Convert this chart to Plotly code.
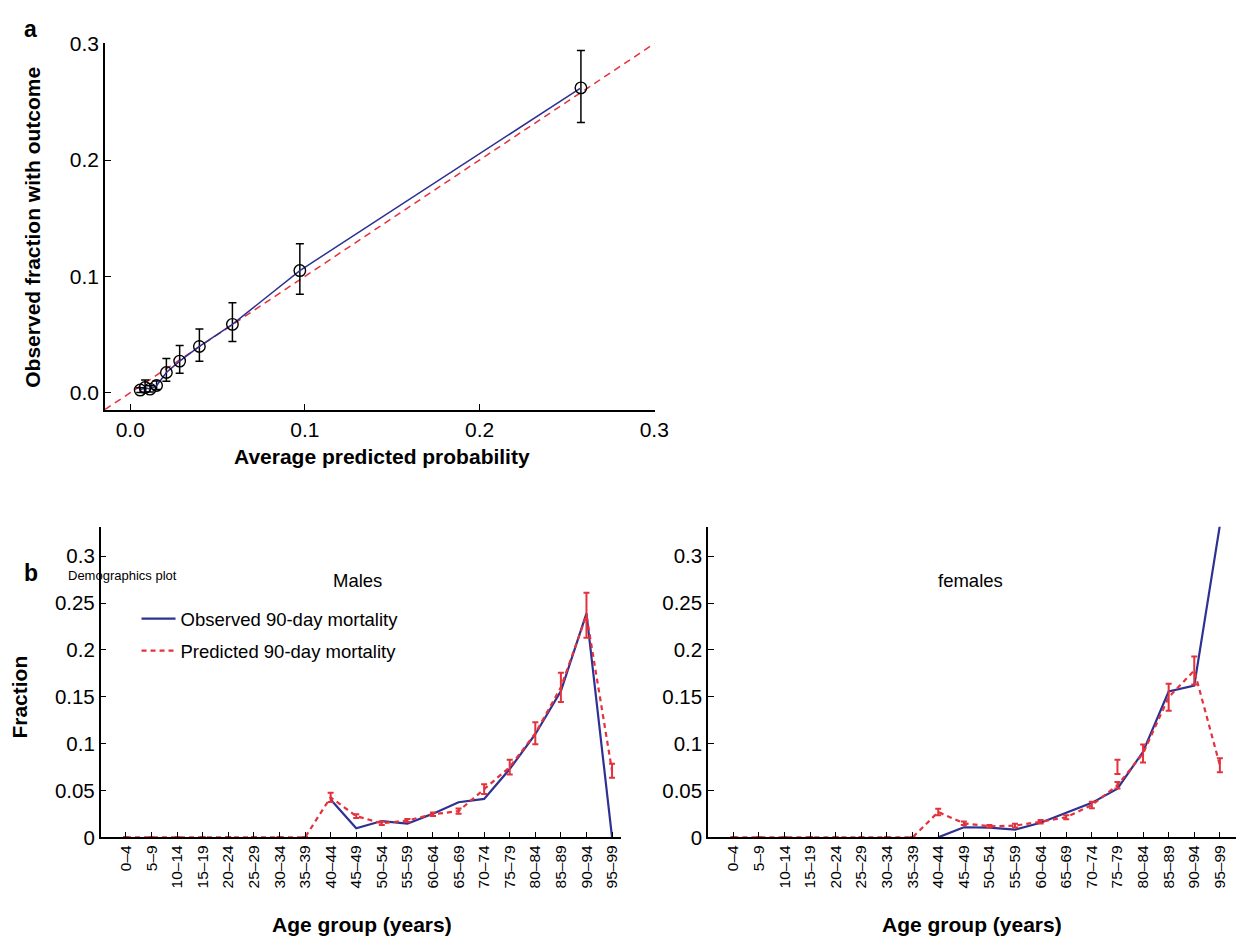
import plotly.graph_objects as go

# ---------------- Panel a: calibration ----------------
avg_pred = [0.0057, 0.0085, 0.0113, 0.0151, 0.0207, 0.0283, 0.0396, 0.0585, 0.0971, 0.2580]
obs_frac = [0.0023, 0.0045, 0.0031, 0.0062, 0.0174, 0.0272, 0.0398, 0.0588, 0.1050, 0.2620]
obs_err_plus = [0.0020, 0.0065, 0.0030, 0.0040, 0.0120, 0.0134, 0.0150, 0.0185, 0.0230, 0.0320]
obs_err_minus = [0.0020, 0.0040, 0.0025, 0.0035, 0.0076, 0.0105, 0.0128, 0.0148, 0.0204, 0.0297]
axis_a_range = [-0.0145, 0.3002]

# ---------------- Panel b: demographics ----------------
age_groups = ["0–4", "5–9", "10–14", "15–19", "20–24", "25–29", "30–34", "35–39", "40–44",
              "45–49", "50–54", "55–59", "60–64", "65–69", "70–74", "75–79", "80–84",
              "85–89", "90–94", "95–99"]

males_obs = [None] * 8 + [0.0403, 0.0097, 0.0174, 0.0146, 0.0253, 0.0375, 0.0410, 0.0729,
                          0.1100, 0.1560, 0.2390, 0.0]
males_pred = [0.0] * 8 + [0.0427, 0.0227, 0.0150, 0.0180, 0.0246, 0.0280, 0.0514, 0.0750,
                          0.1110, 0.1600, 0.2370, 0.0710]
males_pred_err = [0.0005] * 8 + [0.0050, 0.0020, 0.0018, 0.0017, 0.0018, 0.0027, 0.0052, 0.0078,
                                 0.0117, 0.0155, 0.0240, 0.0075]

females_obs = [None] * 8 + [0.0, 0.0108, 0.0104, 0.0083, 0.0156, 0.0264, 0.0368, 0.0520,
                            0.0913, 0.1556, 0.1618, 0.3330]
females_pred = [0.0] * 8 + [0.0270, 0.0150, 0.0118, 0.0125, 0.0167, 0.0215, 0.0345, 0.0556,
                            0.0895, 0.1495, 0.1780, 0.0770]
females_pred_err = [0.0005] * 8 + [0.0035, 0.0018, 0.0014, 0.0021, 0.0018, 0.0021, 0.0035, 0.0035,
                                   0.0095, 0.0145, 0.0150, 0.0075]
# separate error bar drawn at 75–79 in the females panel
females_extra_group = ["75–79"]
females_extra_val = [0.0752]
females_extra_err = [0.0075]

y_ticks_b = [0, 0.05, 0.1, 0.15, 0.2, 0.25, 0.3]
y_ticklabels_b = ["0", "0.05", "0.1", "0.15", "0.2", "0.25", "0.3"]
y_ticks_a = [0.0, 0.1, 0.2, 0.3]
y_ticklabels_a = ["0.0", "0.1", "0.2", "0.3"]

BLUE = "#2E3192"
RED = "#E3323C"
FONT = "Liberation Sans, Arial, sans-serif"

fig = go.Figure()

# Panel a
fig.add_trace(go.Scatter(
    x=axis_a_range, y=axis_a_range, mode="lines",
    line=dict(color=RED, width=1.5, dash="7px,5px"),
    xaxis="x", yaxis="y", showlegend=False, hoverinfo="skip"))
fig.add_trace(go.Scatter(
    x=avg_pred, y=obs_frac, mode="lines+markers",
    line=dict(color=BLUE, width=1.5),
    marker=dict(symbol="circle-open", size=11.5, color="black", line=dict(width=1.4, color="black")),
    error_y=dict(type="data", symmetric=False, array=obs_err_plus, arrayminus=obs_err_minus,
                 color="black", thickness=1.5, width=4),
    xaxis="x", yaxis="y", showlegend=False))

# Males
fig.add_trace(go.Scatter(
    x=age_groups, y=males_obs, mode="lines", name="Observed 90-day mortality",
    legendgroup="obs",
    line=dict(color=BLUE, width=2.2), xaxis="x2", yaxis="y2", showlegend=True))
fig.add_trace(go.Scatter(
    x=age_groups, y=males_pred, mode="lines", name="Predicted 90-day mortality",
    legendgroup="pred",
    line=dict(color=RED, width=2.2, dash="5px,4px"),
    error_y=dict(type="data", array=males_pred_err, color=RED, thickness=2, width=3),
    xaxis="x2", yaxis="y2", showlegend=True))

# Females
fig.add_trace(go.Scatter(
    x=age_groups, y=females_obs, mode="lines",
    line=dict(color=BLUE, width=2.2), xaxis="x3", yaxis="y3", showlegend=False))
fig.add_trace(go.Scatter(
    x=age_groups, y=females_pred, mode="lines",
    line=dict(color=RED, width=2.2, dash="5px,4px"),
    error_y=dict(type="data", array=females_pred_err, color=RED, thickness=2, width=3),
    xaxis="x3", yaxis="y3", showlegend=False))
fig.add_trace(go.Scatter(
    x=females_extra_group, y=females_extra_val, mode="markers",
    marker=dict(size=1, color=RED, opacity=0),
    error_y=dict(type="data", array=females_extra_err, color=RED, thickness=2, width=3),
    xaxis="x3", yaxis="y3", showlegend=False, hoverinfo="skip"))

# The page body has an 8px default margin; the figure is sized and placed
# so that page pixel coordinates match the reference.
OFF = 8
W, H = 1250 - OFF, 947 - OFF

def px_x(p):
    return (p - OFF) / W

def px_y(p):
    return 1 - (p - OFF) / H

common_axis = dict(showline=True, linecolor="black", linewidth=1.5, ticks="inside",
                   ticklen=6, tickcolor="black", tickwidth=1.2, showgrid=False,
                   zeroline=False, mirror=False)

def note(text, x, y, size, angle=0, xanchor="center"):
    return dict(text=text, x=px_x(x), y=px_y(y), xref="paper", yref="paper",
                xanchor=xanchor, yanchor="middle", showarrow=False, textangle=angle,
                font=dict(size=size))

fig.update_layout(
    width=W, height=H,
    margin=dict(l=0, r=0, t=0, b=0),
    paper_bgcolor="white", plot_bgcolor="white",
    font=dict(family=FONT, color="black"),
    xaxis=dict(domain=[px_x(106), px_x(662)], range=axis_a_range, anchor="y",
               tickvals=y_ticks_a, ticktext=y_ticklabels_a,
               tickfont=dict(size=21), **common_axis),
    yaxis=dict(domain=[px_y(408), px_y(33)], range=axis_a_range, anchor="x",
               tickvals=y_ticks_a, ticktext=y_ticklabels_a,
               tickfont=dict(size=21), **common_axis),
    xaxis2=dict(domain=[px_x(101.7), px_x(628)], range=[-0.99, 19.35], anchor="y2",
                type="category", categoryorder="array", categoryarray=age_groups,
                tickangle=-90, tickfont=dict(size=15.5), **common_axis),
    yaxis2=dict(domain=[px_y(846), px_y(528)], range=[0, 0.3313], anchor="x2",
                tickvals=y_ticks_b, ticktext=y_ticklabels_b,
                tickfont=dict(size=20.5), **common_axis),
    xaxis3=dict(domain=[px_x(716), 1.0], range=[-0.99, 19.63], anchor="y3",
                type="category", categoryorder="array", categoryarray=age_groups,
                tickangle=-90, tickfont=dict(size=15.5), **common_axis),
    yaxis3=dict(domain=[px_y(846), px_y(528)], range=[0, 0.3313], anchor="x3",
                tickvals=y_ticks_b, ticktext=y_ticklabels_b,
                tickfont=dict(size=20.5), **common_axis),
    legend=dict(x=px_x(138), y=px_y(603), xanchor="left", yanchor="top",
                bgcolor="rgba(0,0,0,0)", font=dict(size=18.5), tracegroupgap=5,
                itemwidth=34),
    annotations=[
        note("<b>a</b>", 31, 18, 23),
        note("<b>Observed fraction with outcome</b>", 32, 221, 21, angle=-90),
        note("<b>Average predicted probability</b>", 386, 456, 21),
        note("<b>b</b>", 31, 575, 23),
        note("Demographics plot", 67, 578, 13, xanchor="left"),
        note("Males", 361, 583, 18.5),
        note("females", 981, 583, 18.5),
        note("<b>Fraction</b>", 20, 702, 21, angle=-90),
        note("<b>Age group (years)</b>", 366, 935, 21),
        note("<b>Age group (years)</b>", 983, 935, 21),
    ],
)

fig.write_html("out.html")
